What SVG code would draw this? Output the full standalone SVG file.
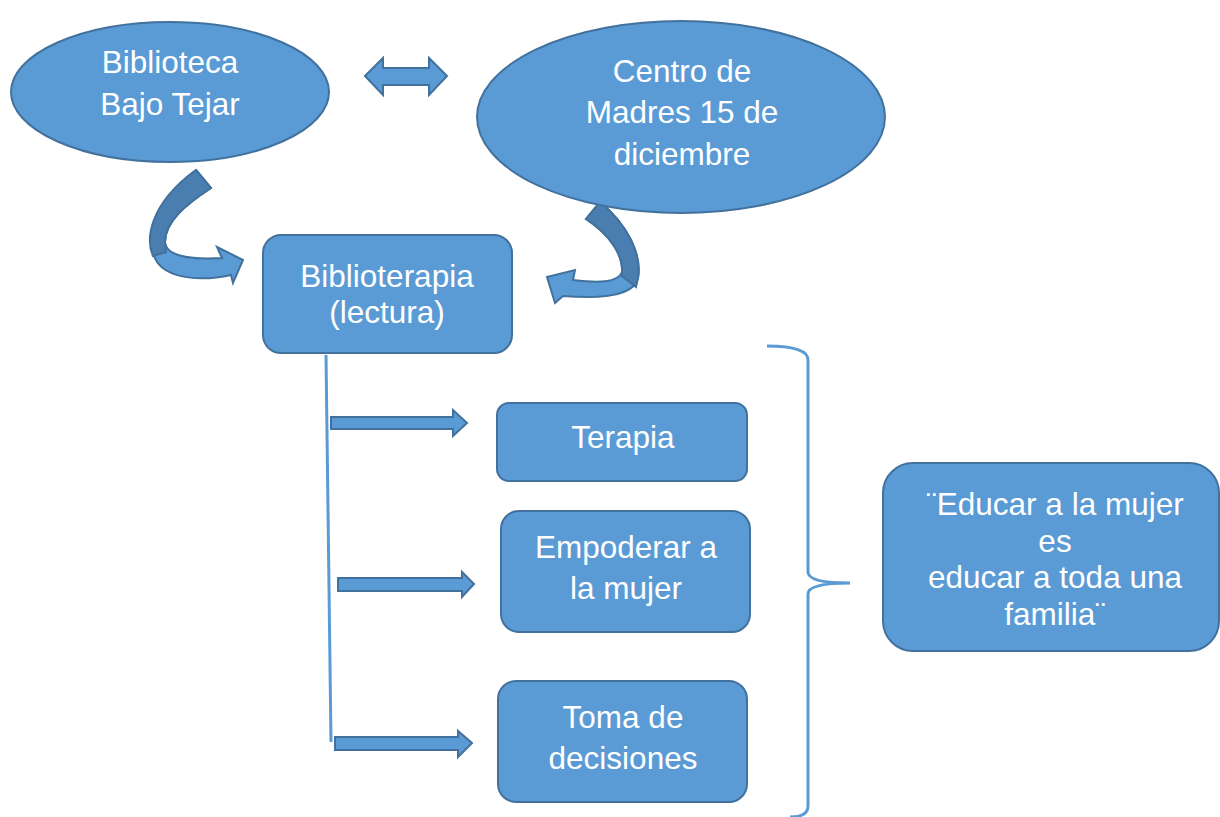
<svg xmlns="http://www.w3.org/2000/svg" width="1220" height="817" viewBox="0 0 1220 817">
<style>
.n{fill:#5B9BD5;stroke:#41719C;stroke-width:2}
.d{fill:#4A7EB1;stroke:#41719C;stroke-width:2}
.t{font-family:"Liberation Sans",Arial,sans-serif;font-size:31.5px;fill:#FFFFFF;text-anchor:middle}
.l{fill:none;stroke:#5B9BD5;stroke-width:3}
</style>
<rect width="1220" height="817" fill="#FFFFFF"/>
<g id="connectors">
<path class="n" d="M365,76 L383,58 L383,68 L429,68 L429,58 L447,76 L429,95 L429,85 L383,85 L383,95 Z"/>
<path class="n" d="M196,170 L211,188 C185,205 165,222 165,242 C166,256 190,260 222,258 L217,247 L243,260 L233,283 L231,275 C200,282 168,278 157,262 C146,245 148,205 196,170 Z"/>
<path class="d" d="M196,170 L211,188 C185,205 165,222 165,242 L166,252 L153,256 C146,240 148,205 196,170 Z"/>
<path class="n" d="M600,202 C628,225 642,255 638,278 C634,296 600,299 563,296 L555,303 L547,277 L575,270 L573,280 C598,283 618,283 622,272 C624,255 610,235 586,219 Z"/>
<path class="d" d="M600,202 C628,225 642,255 638,278 L636,287 L622,276 C624,255 610,235 586,219 Z"/>
<path class="l" d="M326,355 L331,742"/>
<path class="n" d="M331,417 L453,417 L453,410 L467,423 L453,436 L453,429 L331,429 Z"/>
<path class="n" d="M338,578 L462,578 L462,572 L474,584 L462,597 L462,591 L338,591 Z"/>
<path class="n" d="M335,737 L458,737 L458,731 L472,743 L458,757 L458,750 L335,750 Z"/>
<path class="l" d="M767,346 Q808,346 808,360 L808,572 Q808,583 850,583 Q808,583 808,594 L808,806 Q808,817 790,817"/>
</g>
<g id="biblioteca">
<ellipse class="n" cx="170" cy="92" rx="159" ry="70"/>
<text class="t" x="170" y="73">Biblioteca</text>
<text class="t" x="170" y="115">Bajo Tejar</text>
</g>
<g id="centro">
<ellipse class="n" cx="681" cy="117" rx="204" ry="96"/>
<text class="t" x="682" y="82">Centro de</text>
<text class="t" x="682" y="123">Madres 15 de</text>
<text class="t" x="682" y="165">diciembre</text>
</g>
<g id="biblioterapia">
<rect class="n" x="263" y="235" width="249" height="118" rx="18"/>
<text class="t" x="387" y="287">Biblioterapia</text>
<text class="t" x="387" y="323">(lectura)</text>
</g>
<g id="terapia">
<rect class="n" x="497" y="403" width="250" height="78" rx="12"/>
<text class="t" x="623" y="448">Terapia</text>
</g>
<g id="empoderar">
<rect class="n" x="501" y="511" width="249" height="121" rx="18"/>
<text class="t" x="626" y="558">Empoderar a</text>
<text class="t" x="626" y="599">la mujer</text>
</g>
<g id="toma">
<rect class="n" x="498" y="681" width="249" height="121" rx="18"/>
<text class="t" x="623" y="728">Toma de</text>
<text class="t" x="623" y="769">decisiones</text>
</g>
<g id="educar">
<rect class="n" x="883" y="463" width="336" height="188" rx="30"/>
<text class="t" x="1055" y="515">¨Educar a la mujer</text>
<text class="t" x="1055" y="552">es</text>
<text class="t" x="1055" y="588">educar a toda una</text>
<text class="t" x="1055" y="625">familia¨</text>
</g>
</svg>
